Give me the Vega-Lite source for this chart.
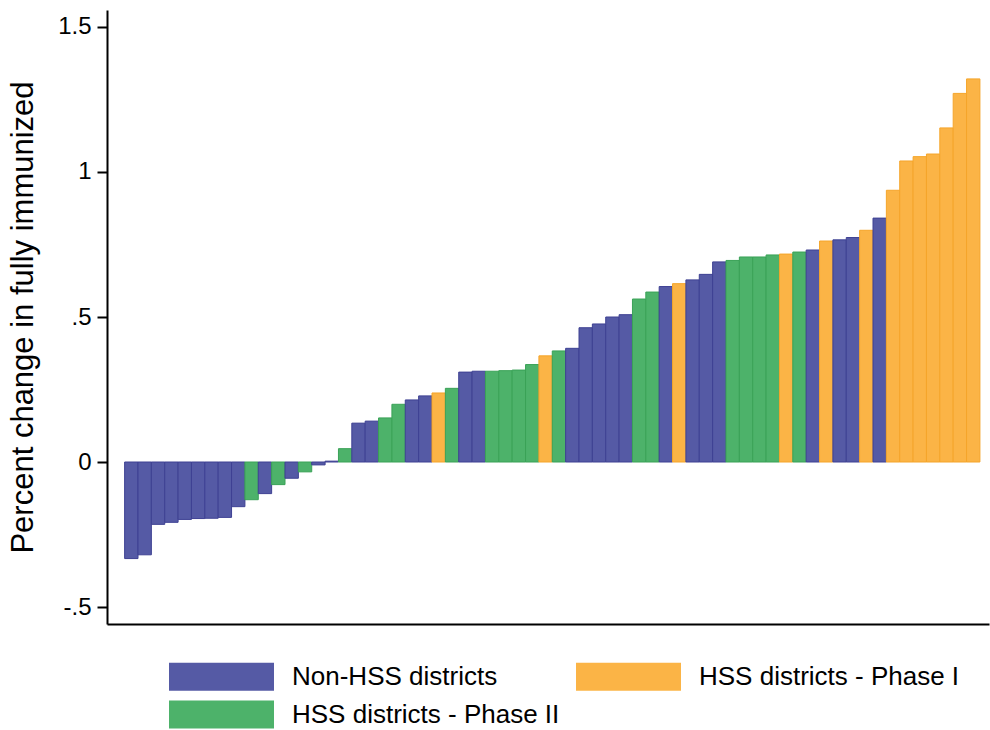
{
  "$schema": "https://vega.github.io/schema/vega-lite/v6.json",
  "width": 882,
  "height": 614,
  "autosize": {"type": "none"},
  "padding": {"left": 107, "top": 10, "right": 1, "bottom": 106},
  "background": "white",
  "config": {"view": {"stroke": null}},
  "data": {
    "values": [
      {"rank": 1, "change": -0.333, "group": "Non-HSS districts"},
      {"rank": 2, "change": -0.320, "group": "Non-HSS districts"},
      {"rank": 3, "change": -0.215, "group": "Non-HSS districts"},
      {"rank": 4, "change": -0.208, "group": "Non-HSS districts"},
      {"rank": 5, "change": -0.198, "group": "Non-HSS districts"},
      {"rank": 6, "change": -0.195, "group": "Non-HSS districts"},
      {"rank": 7, "change": -0.194, "group": "Non-HSS districts"},
      {"rank": 8, "change": -0.191, "group": "Non-HSS districts"},
      {"rank": 9, "change": -0.154, "group": "Non-HSS districts"},
      {"rank": 10, "change": -0.130, "group": "HSS districts - Phase II"},
      {"rank": 11, "change": -0.109, "group": "Non-HSS districts"},
      {"rank": 12, "change": -0.078, "group": "HSS districts - Phase II"},
      {"rank": 13, "change": -0.056, "group": "Non-HSS districts"},
      {"rank": 14, "change": -0.034, "group": "HSS districts - Phase II"},
      {"rank": 15, "change": -0.010, "group": "Non-HSS districts"},
      {"rank": 16, "change": 0.003, "group": "Non-HSS districts"},
      {"rank": 17, "change": 0.046, "group": "HSS districts - Phase II"},
      {"rank": 18, "change": 0.134, "group": "Non-HSS districts"},
      {"rank": 19, "change": 0.141, "group": "Non-HSS districts"},
      {"rank": 20, "change": 0.152, "group": "HSS districts - Phase II"},
      {"rank": 21, "change": 0.199, "group": "HSS districts - Phase II"},
      {"rank": 22, "change": 0.214, "group": "Non-HSS districts"},
      {"rank": 23, "change": 0.228, "group": "Non-HSS districts"},
      {"rank": 24, "change": 0.238, "group": "HSS districts - Phase I"},
      {"rank": 25, "change": 0.254, "group": "HSS districts - Phase II"},
      {"rank": 26, "change": 0.310, "group": "Non-HSS districts"},
      {"rank": 27, "change": 0.313, "group": "Non-HSS districts"},
      {"rank": 28, "change": 0.313, "group": "HSS districts - Phase II"},
      {"rank": 29, "change": 0.315, "group": "HSS districts - Phase II"},
      {"rank": 30, "change": 0.317, "group": "HSS districts - Phase II"},
      {"rank": 31, "change": 0.336, "group": "HSS districts - Phase II"},
      {"rank": 32, "change": 0.366, "group": "HSS districts - Phase I"},
      {"rank": 33, "change": 0.383, "group": "HSS districts - Phase II"},
      {"rank": 34, "change": 0.392, "group": "Non-HSS districts"},
      {"rank": 35, "change": 0.463, "group": "Non-HSS districts"},
      {"rank": 36, "change": 0.476, "group": "Non-HSS districts"},
      {"rank": 37, "change": 0.500, "group": "Non-HSS districts"},
      {"rank": 38, "change": 0.508, "group": "Non-HSS districts"},
      {"rank": 39, "change": 0.562, "group": "HSS districts - Phase II"},
      {"rank": 40, "change": 0.586, "group": "HSS districts - Phase II"},
      {"rank": 41, "change": 0.605, "group": "Non-HSS districts"},
      {"rank": 42, "change": 0.615, "group": "HSS districts - Phase I"},
      {"rank": 43, "change": 0.628, "group": "Non-HSS districts"},
      {"rank": 44, "change": 0.647, "group": "Non-HSS districts"},
      {"rank": 45, "change": 0.690, "group": "Non-HSS districts"},
      {"rank": 46, "change": 0.695, "group": "HSS districts - Phase II"},
      {"rank": 47, "change": 0.707, "group": "HSS districts - Phase II"},
      {"rank": 48, "change": 0.707, "group": "HSS districts - Phase II"},
      {"rank": 49, "change": 0.714, "group": "HSS districts - Phase II"},
      {"rank": 50, "change": 0.717, "group": "HSS districts - Phase I"},
      {"rank": 51, "change": 0.724, "group": "HSS districts - Phase II"},
      {"rank": 52, "change": 0.731, "group": "Non-HSS districts"},
      {"rank": 53, "change": 0.762, "group": "HSS districts - Phase I"},
      {"rank": 54, "change": 0.766, "group": "Non-HSS districts"},
      {"rank": 55, "change": 0.774, "group": "Non-HSS districts"},
      {"rank": 56, "change": 0.799, "group": "HSS districts - Phase I"},
      {"rank": 57, "change": 0.841, "group": "Non-HSS districts"},
      {"rank": 58, "change": 0.937, "group": "HSS districts - Phase I"},
      {"rank": 59, "change": 1.038, "group": "HSS districts - Phase I"},
      {"rank": 60, "change": 1.053, "group": "HSS districts - Phase I"},
      {"rank": 61, "change": 1.062, "group": "HSS districts - Phase I"},
      {"rank": 62, "change": 1.152, "group": "HSS districts - Phase I"},
      {"rank": 63, "change": 1.271, "group": "HSS districts - Phase I"},
      {"rank": 64, "change": 1.321, "group": "HSS districts - Phase I"}
    ]
  },
  "mark": {"type": "bar", "strokeWidth": 1},
  "encoding": {
    "x": {
      "field": "rank",
      "type": "ordinal",
      "scale": {"paddingInner": 0, "paddingOuter": 1.06, "align": 0.66},
      "axis": {"labels": false, "ticks": false, "title": null, "grid": false, "domainColor": "black", "domainWidth": 2}
    },
    "y": {
      "field": "change",
      "type": "quantitative",
      "scale": {"domain": [-0.5586, 1.5586], "nice": false, "zero": false},
      "axis": {
        "values": [-0.5, 0, 0.5, 1, 1.5],
        "labelExpr": "datum.value == 1.5 ? '1.5' : datum.value == 1 ? '1' : datum.value == 0.5 ? '.5' : datum.value == 0 ? '0' : '-.5'",
        "grid": false,
        "domainColor": "black",
        "domainWidth": 2,
        "tickColor": "black",
        "tickWidth": 2,
        "tickSize": 10,
        "labelPadding": 6,
        "labelFont": "Liberation Sans",
        "labelFontSize": 24,
        "labelColor": "black",
        "title": "Percent change in fully immunized",
        "titleFont": "Liberation Sans",
        "titleFontSize": 31,
        "titleFontWeight": "normal",
        "titleColor": "black",
        "titlePadding": 18
      }
    },
    "color": {
      "field": "group",
      "type": "nominal",
      "scale": {
        "domain": ["Non-HSS districts", "HSS districts - Phase I", "HSS districts - Phase II"],
        "range": ["#555AA5", "#FBB446", "#4DB26A"]
      },
      "legend": {
        "orient": "none",
        "direction": "horizontal",
        "legendX": 101,
        "legendY": 653,
        "columns": 2,
        "title": null,
        "symbolType": "M-4,-1.067H4V1.067H-4Z",
        "symbolSize": 689,
        "symbolStrokeWidth": 0,
        "symbolOpacity": 1,
        "labelFont": "Liberation Sans",
        "labelFontSize": 26,
        "labelColor": "black",
        "labelOffset": 57,
        "labelLimit": 400,
        "columnPadding": 16,
        "rowPadding": 9
      }
    },
    "stroke": {
      "field": "group",
      "type": "nominal",
      "scale": {
        "domain": ["Non-HSS districts", "HSS districts - Phase I", "HSS districts - Phase II"],
        "range": ["#3E4193", "#F5A52A", "#3AA257"]
      },
      "legend": null
    }
  }
}
